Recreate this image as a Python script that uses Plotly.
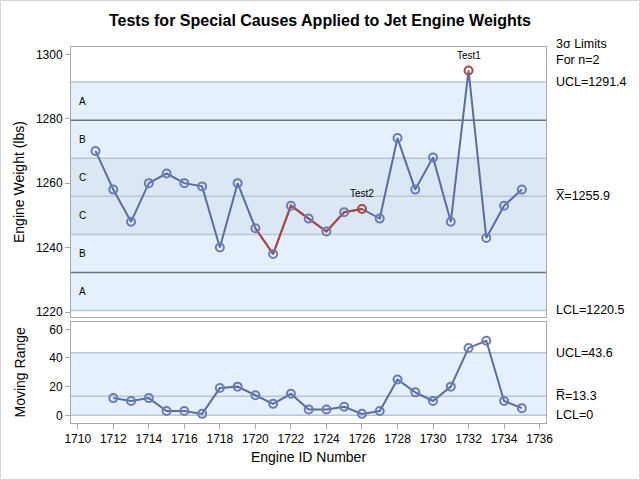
import plotly.graph_objects as go

# ---- data ----
engine_ids = list(range(1711, 1736))
weights = [1270, 1258, 1248, 1260, 1263, 1260, 1259, 1240, 1260, 1246, 1238, 1253, 1249,
           1245, 1251, 1252, 1249, 1274, 1258, 1268, 1248, 1295, 1243, 1253, 1258]
mr_ids = list(range(1712, 1736))
moving_range = [12, 10, 12, 3, 3, 1, 19, 20, 14, 8, 15, 4, 4, 6, 1, 3, 25, 16, 10, 20, 47, 52, 10, 5]

x_ucl, x_mean, x_lcl = 1291.4, 1255.9, 1220.5
mr_ucl, mr_mean, mr_lcl = 43.6, 13.3, 0.0
sigma = (x_ucl - x_mean) / 3.0

test_labels = {1732: "Test1", 1726: "Test2"}
red_segment_ids = [1720, 1721, 1722, 1723, 1724, 1725, 1726]
zone_labels = ["A", "B", "C", "C", "B", "A"]
x_ticks = list(range(1710, 1737, 2))

# ---- style ----
FONT = "Liberation Sans, Arial, sans-serif"
LINE_C = "#5B6D9F"
MARK_C = "#6A7CB6"
RED_C = "#B0443F"
BAND_C = "#E6F0FD"
CZONE_C = "#DCE7F4"
FRAME_C = "#A9A9A9"
LIGHT_LINE = "#B9C5D5"
DARK_LINE = "#6B7280"

fig = go.Figure()

fig.add_trace(go.Scatter(x=engine_ids, y=weights, mode="lines",
                         line=dict(color=LINE_C, width=2), xaxis="x2", yaxis="y2",
                         showlegend=False, hoverinfo="skip"))
red_y = [weights[engine_ids.index(i)] for i in red_segment_ids]
fig.add_trace(go.Scatter(x=red_segment_ids, y=red_y, mode="lines",
                         line=dict(color=RED_C, width=2), xaxis="x2", yaxis="y2",
                         showlegend=False, hoverinfo="skip"))
mcolors = [RED_C if i in test_labels else MARK_C for i in engine_ids]
fig.add_trace(go.Scatter(x=engine_ids, y=weights, mode="markers",
                         marker=dict(symbol="circle-open", size=8, color=mcolors,
                                     line=dict(width=2, color=mcolors)),
                         xaxis="x2", yaxis="y2", showlegend=False))

fig.add_trace(go.Scatter(x=mr_ids, y=moving_range, mode="lines+markers",
                         line=dict(color=LINE_C, width=2),
                         marker=dict(symbol="circle-open", size=8, color=MARK_C,
                                     line=dict(width=2, color=MARK_C)),
                         xaxis="x", yaxis="y", showlegend=False))

shapes = []


def hband(y0, y1, color, xref, yref):
    return dict(type="rect", xref=xref, yref=yref, x0=0, x1=1, y0=y0, y1=y1,
                fillcolor=color, line=dict(width=0), layer="below")


def hline(y, color, width, xref, yref):
    return dict(type="line", xref=xref, yref=yref, x0=0, x1=1, y0=y, y1=y,
                line=dict(color=color, width=width), layer="below")


T = ("x2 domain", "y2")
B = ("x domain", "y")
shapes.append(hband(x_lcl, x_ucl, BAND_C, *T))
shapes.append(hband(x_mean - sigma, x_mean + sigma, CZONE_C, *T))
shapes.append(hline(x_ucl, LIGHT_LINE, 1.5, *T))
shapes.append(hline(x_lcl, LIGHT_LINE, 1.5, *T))
shapes.append(hline(x_mean + sigma, LIGHT_LINE, 1.5, *T))
shapes.append(hline(x_mean - sigma, LIGHT_LINE, 1.5, *T))
shapes.append(hline(x_mean, LIGHT_LINE, 1.5, *T))
shapes.append(hline(x_mean + 2 * sigma, DARK_LINE, 1.5, *T))
shapes.append(hline(x_mean - 2 * sigma, DARK_LINE, 1.5, *T))
shapes.append(hband(mr_lcl, mr_ucl, BAND_C, *B))
shapes.append(hline(mr_ucl, LIGHT_LINE, 1.5, *B))
shapes.append(hline(mr_mean, LIGHT_LINE, 1.5, *B))
shapes.append(hline(mr_lcl, LIGHT_LINE, 1.5, *B))
shapes.append(dict(type="rect", xref="paper", yref="paper",
                   x0=-70.5 / 475, x1=1 + 93.5 / 475, y0=-56.5 / 376, y1=1 + 46.5 / 376,
                   line=dict(color="#D3D3D3", width=1), fillcolor="rgba(0,0,0,0)", layer="below"))

annotations = []
zone_bounds = [x_ucl, x_mean + 2 * sigma, x_mean + sigma, x_mean, x_mean - sigma,
               x_mean - 2 * sigma, x_lcl]
for k, lab in enumerate(zone_labels):
    yc = (zone_bounds[k] + zone_bounds[k + 1]) / 2
    annotations.append(dict(text=lab, xref="x2 domain", yref="y2", x=0.013, y=yc,
                            xanchor="left", yanchor="middle", showarrow=False,
                            font=dict(family=FONT, size=10, color="black")))
for tid, lab in test_labels.items():
    annotations.append(dict(text=lab, xref="x2", yref="y2", x=tid,
                            y=weights[engine_ids.index(tid)], yshift=15,
                            xanchor="center", yanchor="middle", showarrow=False,
                            font=dict(family=FONT, size=10, color="black")))
rx = 1 + (554 - 546) / 475
RSIZE = 12.5


def rlabel(text, y, yref):
    annotations.append(dict(text=text, xref="paper", yref=yref, x=rx, y=y,
                            xanchor="left", yanchor="middle", showarrow=False,
                            font=dict(family=FONT, size=RSIZE, color="black")))


annotations.append(dict(text="3σ Limits<br>For n=2", xref="paper", yref="paper", x=rx,
                        y=1 + 12 / 376, xanchor="left", yanchor="top", align="left",
                        showarrow=False, font=dict(family=FONT, size=RSIZE, color="black")))
rlabel(f"UCL={x_ucl}", x_ucl, "y2")
rlabel(f"X\u0305={x_mean}", x_mean, "y2")
rlabel(f"LCL={x_lcl}", x_lcl, "y2")
rlabel(f"UCL={mr_ucl}", mr_ucl, "y")
rlabel(f"R\u0305={mr_mean}", mr_mean, "y")
rlabel(f"LCL={mr_lcl:g}", mr_lcl, "y")

# y-axis titles at a common x position
ytitle_x = (19 - 71) / 475
for txt, yc in [("Engine Weight (lbs)", (106 / 376 + 1) / 2), ("Moving Range", 101 / 376 / 2)]:
    annotations.append(dict(text=txt, xref="paper", yref="paper", x=ytitle_x, y=yc,
                            xanchor="center", yanchor="middle", textangle=-90,
                            showarrow=False, font=dict(family=FONT, size=14, color="black")))

axis_common = dict(showline=True, linecolor=FRAME_C, linewidth=1, mirror=True,
                   ticks="outside", ticklen=5, tickcolor=FRAME_C, showgrid=False,
                   zeroline=False, tickfont=dict(family=FONT, size=12, color="black"))

fig.update_layout(
    width=640, height=480,
    margin=dict(l=71, r=94, t=47, b=57, autoexpand=False),
    paper_bgcolor="white", plot_bgcolor="white",
    title=dict(text="<b>Tests for Special Causes Applied to Jet Engine Weights</b>",
               x=0.5, xanchor="center", y=1 - 20 / 480, yanchor="middle",
               font=dict(family=FONT, size=16, color="black")),
    xaxis=dict(range=[1709.62, 1736.36], tickvals=x_ticks, anchor="y",
               title=dict(text="Engine ID Number", font=dict(family=FONT, size=14, color="black"),
                          standoff=6),
               **axis_common),
    yaxis=dict(domain=[0, 101 / 376], range=[-5.37, 65.1], tickvals=[0, 20, 40, 60],
               anchor="x", **axis_common),
    xaxis2=dict(range=[1709.62, 1736.36], anchor="y2", matches="x", showticklabels=False,
                showline=True, linecolor=FRAME_C, linewidth=1, mirror=True, ticks="",
                showgrid=False, zeroline=False),
    yaxis2=dict(domain=[106 / 376, 1], range=[1218.45, 1302.27],
                tickvals=[1220, 1240, 1260, 1280, 1300], anchor="x2", **axis_common),
    shapes=shapes, annotations=annotations,
)

fig.write_html("out.html", config={"displayModeBar": False},
               post_script="document.body.style.margin='0';")
